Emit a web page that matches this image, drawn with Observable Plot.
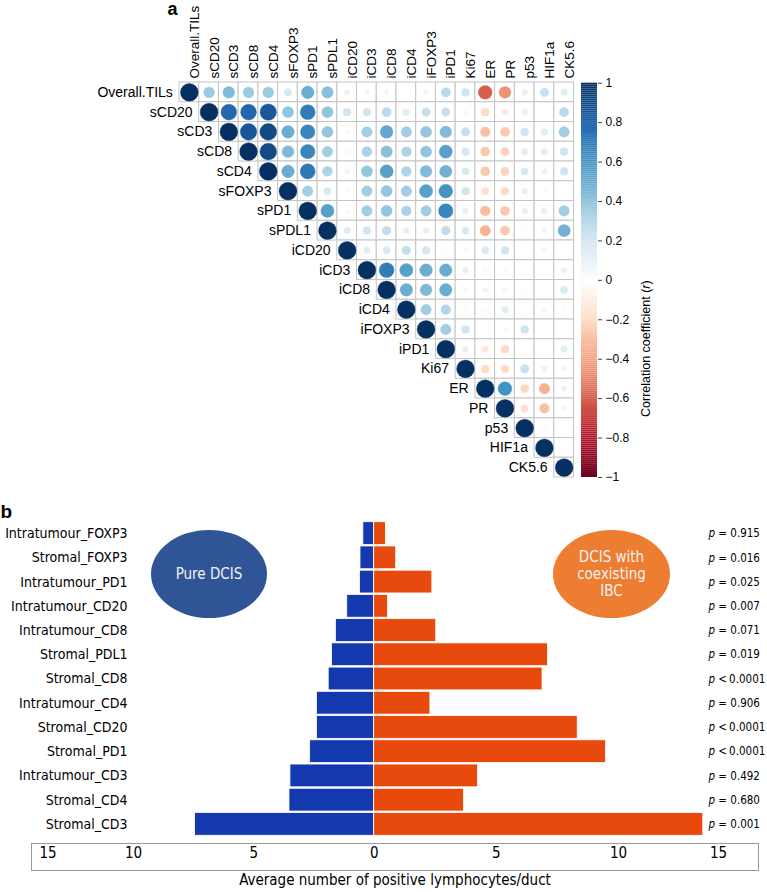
<!DOCTYPE html>
<html><head><meta charset="utf-8">
<script src="https://cdn.jsdelivr.net/npm/d3@7"></script>
<script src="https://cdn.jsdelivr.net/npm/@observablehq/plot@0.6"></script>
<style>
body{margin:0;background:#fff;}
#root{position:relative;width:767px;height:892px;overflow:hidden;background:#fff;}
#root svg{position:absolute;}
.ell{position:absolute;border-radius:50%;display:flex;align-items:center;justify-content:center;text-align:center;color:#f2f2f2;font-family:"DejaVu Sans Condensed","Liberation Sans",Arial,sans-serif;font-size:15px;line-height:17px;}
</style></head><body><div id="root"></div>
<script>
// ---------- panel a: correlation matrix ----------
const corrVars = ["Overall.TILs","sCD20","sCD3","sCD8","sCD4","sFOXP3","sPD1","sPDL1","iCD20","iCD3","iCD8","iCD4","iFOXP3","iPD1","Ki67","ER","PR","p53","HIF1a","CK5.6"];
// upper triangle (row i: columns i+1 .. 19); diagonal = 1
const corrUpper = [
  [0.37,0.44,0.37,0.37,0.17,0.50,0.42,-0.10,0.07,0.07,0.02,0.07,0.27,0.20,-0.60,-0.45,0.11,0.23,0.14],
  [0.79,0.79,0.85,0.40,0.70,0.40,0.20,0.20,0.27,0.14,0.23,0.23,0.05,-0.20,-0.12,0.11,0.05,0.27],
  [0.86,0.90,0.50,0.66,0.40,0.05,0.35,0.52,0.35,0.40,0.44,0.23,-0.30,-0.27,0.20,0.14,0.35],
  [0.90,0.45,0.66,0.35,0.05,0.32,0.42,0.31,0.40,0.55,0.18,-0.27,-0.23,0.13,0.13,0.20],
  [0.50,0.72,0.31,0.07,0.40,0.55,0.31,0.44,0.48,0.17,-0.27,-0.23,0.17,0.09,0.20],
  [0.35,0.17,0.05,0.35,0.40,0.35,0.55,0.60,0.20,-0.17,-0.20,0.11,0.05,0.02],
  [0.55,0.05,0.35,0.40,0.31,0.35,0.66,0.11,-0.31,-0.27,0.11,0.11,0.35],
  [0.14,0.20,0.25,0.11,0.11,0.25,0.17,-0.35,-0.27,0.03,0.08,0.48],
  [0.14,0.16,0.24,0.19,0.03,-0.06,0.16,0.20,0.02,-0.07,0.01],
  [0.70,0.55,0.50,0.50,0.11,-0.05,-0.04,0.02,-0.02,0.09],
  [0.50,0.45,0.50,0.07,-0.09,-0.07,0.03,0.005,0.17],
  [0.35,0.30,0.03,0.04,0.14,0.005,-0.07,0.03],
  [0.35,0.20,-0.02,-0.06,0.20,0.03,0.02],
  [0.11,-0.14,-0.20,0.01,0.005,0.14],
  [-0.20,-0.20,0.23,0.09,0.07],
  [0.60,-0.22,-0.35,-0.10],
  [-0.17,-0.30,-0.07],
  [0.04,0.005],
  [0.005]
];
const legendTicks = [-1,-0.8,-0.6,-0.4,-0.2,0,0.2,0.4,0.6,0.8,1];

// ---------- panel b: bar chart ----------
const barCategories = ["Intratumour_FOXP3","Stromal_FOXP3","Intratumour_PD1","Intratumour_CD20","Intratumour_CD8","Stromal_PDL1","Stromal_CD8","Intratumour_CD4","Stromal_CD20","Stromal_PD1","Intratumour_CD3","Stromal_CD4","Stromal_CD3"];
const pureDCIS      = [0.45,0.57,0.59,1.12,1.59,1.75,1.89,2.38,2.38,2.66,3.48,3.52,7.44];
const coexistingIBC = [0.48,0.90,2.38,0.56,2.54,7.11,6.89,2.30,8.33,9.49,4.25,3.68,14.24];
const pValues = ["= 0.915","= 0.016","= 0.025","= 0.007","= 0.071","= 0.019","< 0.0001","= 0.906","< 0.0001","< 0.0001","= 0.492","= 0.680","= 0.001"];
const barTicks = [-15,-10,-5,0,5,10,15];

// ---------- build ----------
const corrPalette = ["#67001F","#B2182B","#D6604D","#F4A582","#FDDBC7","#FFFFFF","#D1E5F0","#92C5DE","#4393C3","#2166AC","#053061"];
const corrData = [];
corrVars.forEach((v, i) => {
  corrData.push({row: v, col: v, r: 1});
  (corrUpper[i] || []).forEach((val, k) => corrData.push({row: v, col: corrVars[i + 1 + k], r: val}));
});

const sansFont = '"Liberation Sans", Arial, Helvetica, sans-serif';
const narrowFont = '"DejaVu Sans Condensed", "Liberation Sans", Arial, sans-serif';
const root = document.getElementById("root");

const matrix = Plot.plot({
  width: 575, height: 500,
  marginLeft: 179, marginRight: 1.5, marginTop: 82, marginBottom: 23,
  x: {domain: corrVars, range: [179, 573.5], padding: 0, round: false, axis: null},
  y: {domain: corrVars, range: [82, 477], padding: 0, round: false, axis: null},
  r: {type: "sqrt", domain: [0, 1], range: [0, 8.9]},
  color: {type: "linear", domain: legendTicks, range: corrPalette},
  style: {background: "transparent", fontFamily: sansFont, fontSize: "14px", color: "#000", overflow: "visible"},
  marks: [
    Plot.cell(corrData, {x: "col", y: "row", fill: "white", stroke: "#c4c4c4", strokeWidth: 1, inset: 0}),
    Plot.dot(corrData, {x: "col", y: "row", r: d => Math.abs(d.r), fill: "r", stroke: "r", strokeWidth: 0.4}),
    Plot.text(corrVars, {x: d => d, y: d => d, textAnchor: "end", dx: -16.5}),
    Plot.text(corrVars, {x: d => d, frameAnchor: "top", rotate: -90, textAnchor: "start", dy: -4, fontSize: 13.5}),
    Plot.text(["a"], {frameAnchor: "top-left", textAnchor: "start", lineAnchor: "top", dx: -12, dy: -80, fontWeight: "bold", fontSize: 18})
  ]
});
matrix.style.left = "0px"; matrix.style.top = "0px";
root.appendChild(matrix);

const ramp = d3.range(0, 200).map(i => -1 + i * 0.01);
const colorbar = Plot.plot({
  width: 192, height: 500,
  marginLeft: 6, marginRight: 170, marginTop: 82.7, marginBottom: 23,
  x: {domain: [0, 1], axis: null},
  y: {domain: [-1, 1]},
  color: {type: "linear", domain: legendTicks, range: corrPalette},
  style: {background: "transparent", fontFamily: sansFont, fontSize: "12px", color: "#000", overflow: "visible"},
  marks: [
    Plot.rect(ramp, {x1: 0, x2: 1, y1: d => d, y2: d => d + 0.0102, fill: d => d + 0.005}),
    Plot.axisY({anchor: "right", ticks: legendTicks, tickFormat: d => d3.format("~g")(d), tickSize: 4, tickPadding: 4, label: null, stroke: "#444"}),
    Plot.text(["Correlation coefficient (r)"], {frameAnchor: "right", dx: 48, rotate: -90, fontSize: 12.5})
  ]
});
colorbar.style.left = "575px"; colorbar.style.top = "0px";
root.appendChild(colorbar);

const bars = Plot.plot({
  width: 767, height: 392,
  marginLeft: 31, marginRight: 9, marginTop: 21, marginBottom: 22,
  x: {type: "linear", domain: [-15, -10, 0, 10, 15], range: [47.5, 133, 373.7, 618, 718], axis: null},
  y: {domain: barCategories, range: [21, 336], paddingInner: 0.06, paddingOuter: 0.03, round: false, axis: null},
  style: {background: "transparent", fontFamily: narrowFont, fontSize: "14px", color: "#000", overflow: "visible"},
  marks: [
    Plot.barX(barCategories, {y: d => d, x1: 0, x2: (d, i) => -pureDCIS[i], fill: "#1438ae", stroke: "#fff", strokeWidth: 0.8}),
    Plot.barX(barCategories, {y: d => d, x1: 0, x2: (d, i) => coexistingIBC[i], fill: "#e8490c", stroke: "#fff", strokeWidth: 0.8}),
    Plot.text(barCategories, {y: d => d, frameAnchor: "left", dx: 96, textAnchor: "end"}),
    Plot.text(pValues, {y: (d, i) => barCategories[i], frameAnchor: "right", dx: -50, textAnchor: "start",
      text: d => "p " + (d[0] === "<" ? d.replace(/ /g, "\u2009") : d), fontSize: 11.5}),
    Plot.frame({stroke: "#9a9a9a", insetTop: 322}),
    Plot.text(barTicks, {x: d => d, frameAnchor: "bottom", dy: -13, text: d => String(Math.abs(d)), fontSize: 15}),
    Plot.text(["Average number of positive lymphocytes/duct"], {frameAnchor: "bottom", dy: 14, fontSize: 15}),
    Plot.text(["b"], {frameAnchor: "top-left", textAnchor: "start", lineAnchor: "top", dx: -31, dy: -17, fontWeight: "bold", fontSize: 19, fontFamily: sansFont})
  ]
});
bars.style.left = "0px"; bars.style.top = "500px";
root.appendChild(bars);

// italic "p" and "r"
function italicize(svg) {
  d3.select(svg).selectAll("text").each(function() {
    const t = this.textContent;
    let parts = null;
    if (/^p [=<]/.test(t)) parts = [["p", true], [t.slice(1), false]];
    else if (t === "Correlation coefficient (r)") parts = [["Correlation coefficient (", false], ["r", true], [")", false]];
    if (!parts) return;
    const sel = d3.select(this);
    sel.text(null);
    parts.forEach(([s, it]) => { const ts = sel.append("tspan").text(s); if (it) ts.attr("font-style", "italic"); });
  });
}
italicize(colorbar); italicize(bars);

// group ellipses
const e1 = document.createElement("div");
e1.className = "ell"; e1.style.cssText = "left:151px;top:530px;width:116px;height:88px;background:#2f5597;";
e1.textContent = "Pure DCIS";
root.appendChild(e1);
const e2 = document.createElement("div");
e2.className = "ell"; e2.style.cssText = "left:553px;top:530px;width:117px;height:88px;background:#ed7d31;";
e2.innerHTML = "DCIS with<br>coexisting<br>IBC";
root.appendChild(e2);
</script></body></html>
